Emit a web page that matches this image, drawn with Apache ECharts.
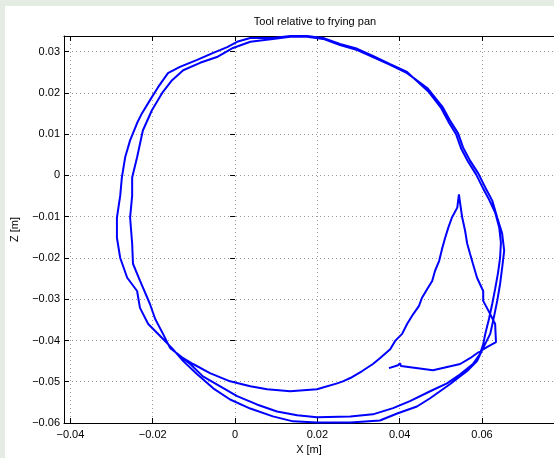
<!DOCTYPE html>
<html>
<head>
<meta charset="utf-8">
<title>Tool relative to frying pan</title>
<script src="https://cdn.jsdelivr.net/npm/echarts@6/dist/echarts.min.js"></script>
<style>
  html, body { margin: 0; padding: 0; }
  body { width: 554px; height: 458px; background: #e4ece3; position: relative; overflow: hidden; }
  #chart { position: absolute; left: 5px; top: 6px; width: 549px; height: 452px; background: #ffffff; }
</style>
</head>
<body>
<div id="chart"></div>
<script>
// Tool tip position [X, Z] in metres
const approachPath = [
  [0.0374, -0.0467], [0.0396, -0.0460], [0.0401, -0.0455], [0.0403, -0.0462],
  [0.0481, -0.0472], [0.0547, -0.0457], [0.0571, -0.0443], [0.0588, -0.0431],
  [0.0612, -0.0416], [0.0634, -0.0404], [0.0632, -0.0360], [0.0620, -0.0336],
  [0.0612, -0.0321], [0.0603, -0.0304], [0.0603, -0.0280], [0.0595, -0.0263],
  [0.0588, -0.0248], [0.0578, -0.0214], [0.0571, -0.0190], [0.0564, -0.0165],
  [0.0559, -0.0134], [0.0552, -0.0102], [0.0547, -0.0068], [0.0544, -0.0046]
];

const tipReturn = [
  [0.0540, -0.0078], [0.0527, -0.0102], [0.0518, -0.0127], [0.0510, -0.0153],
  [0.0503, -0.0178], [0.0496, -0.0207], [0.0486, -0.0231], [0.0479, -0.0256],
  [0.0467, -0.0275], [0.0454, -0.0297], [0.0447, -0.0316], [0.0433, -0.0336],
  [0.0418, -0.0360], [0.0406, -0.0384], [0.0389, -0.0401], [0.0377, -0.0421],
  [0.0352, -0.0443], [0.0335, -0.0457], [0.0309, -0.0474], [0.0280, -0.0491],
  [0.0262, -0.0499], [0.0248, -0.0504], [0.0199, -0.0518], [0.0134, -0.0523],
  [0.0078, -0.0518], [0.0037, -0.0511], [-0.0012, -0.0499], [-0.0061, -0.0479],
  [-0.0102, -0.0457], [-0.0126, -0.0443], [-0.0158, -0.0418], [-0.0175, -0.0384],
  [-0.0194, -0.0348], [-0.0207, -0.0311]
];

const firstLap = [
  [-0.0231, -0.0255], [-0.0248, -0.0214], [-0.0250, -0.0165], [-0.0255, -0.0102],
  [-0.0250, -0.0049], [-0.0250, -0.0005], [-0.0238, 0.0044], [-0.0224, 0.0109],
  [-0.0202, 0.0158], [-0.0177, 0.0200], [-0.0153, 0.0231], [-0.0126, 0.0255],
  [-0.0085, 0.0273], [-0.0044, 0.0287], [-0.0005, 0.0309], [0.0037, 0.0324],
  [0.0092, 0.0331], [0.0134, 0.0336], [0.0175, 0.0336], [0.0214, 0.0331],
  [0.0255, 0.0316], [0.0297, 0.0304], [0.0335, 0.0287], [0.0377, 0.0268],
  [0.0418, 0.0248], [0.0467, 0.0212], [0.0505, 0.0165], [0.0522, 0.0134],
  [0.0542, 0.0102], [0.0554, 0.0068], [0.0571, 0.0036], [0.0591, 0.0005],
  [0.0608, -0.0029], [0.0625, -0.0061], [0.0637, -0.0102], [0.0649, -0.0141],
  [0.0654, -0.0182], [0.0649, -0.0224], [0.0644, -0.0263], [0.0637, -0.0304],
  [0.0627, -0.0353], [0.0620, -0.0384], [0.0603, -0.0418], [0.0588, -0.0450],
  [0.0564, -0.0474], [0.0522, -0.0506], [0.0474, -0.0540], [0.0442, -0.0560],
  [0.0394, -0.0577], [0.0352, -0.0594], [0.0280, -0.0599], [0.0199, -0.0599],
  [0.0141, -0.0596], [0.0092, -0.0584], [0.0037, -0.0565], [-0.0012, -0.0543],
  [-0.0053, -0.0516], [-0.0092, -0.0482], [-0.0126, -0.0450], [-0.0151, -0.0421]
];

const secondLap = [
  [-0.0182, -0.0389], [-0.0211, -0.0360], [-0.0231, -0.0321], [-0.0238, -0.0280],
  [-0.0262, -0.0248], [-0.0279, -0.0200], [-0.0287, -0.0151], [-0.0287, -0.0102],
  [-0.0279, -0.0049], [-0.0275, -0.0005], [-0.0267, 0.0044], [-0.0255, 0.0085],
  [-0.0238, 0.0127], [-0.0226, 0.0151], [-0.0207, 0.0182], [-0.0187, 0.0214],
  [-0.0163, 0.0248], [-0.0134, 0.0263], [-0.0092, 0.0280], [-0.0053, 0.0297],
  [-0.0019, 0.0311], [0.0005, 0.0324], [0.0037, 0.0333], [0.0092, 0.0333],
  [0.0134, 0.0338], [0.0175, 0.0338], [0.0214, 0.0333], [0.0255, 0.0319],
  [0.0297, 0.0307], [0.0335, 0.0290], [0.0377, 0.0270], [0.0418, 0.0251],
  [0.0471, 0.0202], [0.0501, 0.0163], [0.0518, 0.0131], [0.0537, 0.0100],
  [0.0549, 0.0066], [0.0566, 0.0034], [0.0586, 0.0002], [0.0603, -0.0032],
  [0.0617, -0.0058], [0.0632, -0.0090], [0.0642, -0.0127], [0.0646, -0.0163],
  [0.0644, -0.0200], [0.0639, -0.0236], [0.0632, -0.0275], [0.0625, -0.0311],
  [0.0617, -0.0348], [0.0608, -0.0384], [0.0603, -0.0409], [0.0595, -0.0433],
  [0.0578, -0.0457], [0.0547, -0.0482], [0.0515, -0.0504], [0.0474, -0.0523],
  [0.0425, -0.0547], [0.0384, -0.0564], [0.0335, -0.0579], [0.0280, -0.0584],
  [0.0199, -0.0586], [0.0151, -0.0581], [0.0102, -0.0572], [0.0053, -0.0555],
  [0.0005, -0.0535], [-0.0036, -0.0511], [-0.0078, -0.0487], [-0.0109, -0.0457],
  [-0.0134, -0.0438]
];

const trajectory = approachPath.concat(tipReturn, firstLap, secondLap);

const xRange = [-0.04156, 0.0775];
const zRange = [-0.06, 0.0338];

const chart = echarts.init(document.getElementById('chart'), null, { renderer: 'canvas' });

const fontFamily = '"Liberation Sans", Arial, Helvetica, sans-serif';

// MATLAB style minus sign
function tickText(v) {
  const n = Number(v.toFixed(2));
  if (n === 0) return '0';
  return n < 0 ? '\u2212' + Math.abs(n) : String(n);
}

const gridDots = { show: true, lineStyle: { color: '#999999', width: 1, type: [1, 3] } };
const boxLine = { show: true, onZero: false, lineStyle: { color: '#000', width: 1 } };
const inTicks = { show: true, inside: true, length: 5, lineStyle: { color: '#000' } };

const option = {
  animation: false,
  title: {
    text: 'Tool relative to frying pan',
    left: 305,
    top: 5,
    textAlign: 'center',
    textStyle: { fontSize: 11, fontWeight: 'normal', color: '#000', fontFamily: fontFamily }
  },
  grid: { left: 59, top: 30, width: 490, height: 387, containLabel: false, outerBoundsMode: 'none' },
  xAxis: [
    {
      type: 'value',
      position: 'bottom',
      min: xRange[0],
      max: xRange[1],
      splitNumber: 6,
      minInterval: 0.02,
      maxInterval: 0.02,
      name: 'X [m]',
      nameLocation: 'middle',
      nameGap: 18,
      nameTextStyle: { fontSize: 11, color: '#000', fontFamily: fontFamily },
      axisLine: boxLine,
      axisTick: inTicks,
      axisLabel: {
        margin: 6, fontSize: 11, color: '#000', fontFamily: fontFamily,
        showMinLabel: false, showMaxLabel: false, formatter: tickText
      },
      splitLine: gridDots
    },
    {
      type: 'value',
      position: 'top',
      min: xRange[0],
      max: xRange[1],
      splitNumber: 6,
      minInterval: 0.02,
      maxInterval: 0.02,
      axisLine: boxLine,
      axisTick: inTicks,
      axisLabel: { show: false },
      splitLine: { show: false }
    }
  ],
  yAxis: [
    {
      type: 'value',
      position: 'left',
      min: zRange[0],
      max: zRange[1],
      interval: 0.01,
      name: 'Z [m]',
      nameLocation: 'middle',
      nameGap: 44,
      nameRotate: 90,
      nameTextStyle: { fontSize: 11, color: '#000', fontFamily: fontFamily },
      axisLine: boxLine,
      axisTick: inTicks,
      axisLabel: {
        margin: 4, fontSize: 11, color: '#000', fontFamily: fontFamily,
        showMaxLabel: false, formatter: tickText
      },
      splitLine: gridDots
    },
    {
      type: 'value',
      position: 'right',
      min: zRange[0],
      max: zRange[1],
      interval: 0.01,
      axisLine: { show: false },
      axisTick: inTicks,
      axisLabel: { show: false },
      splitLine: { show: false }
    }
  ],
  series: [
    {
      name: 'Tool',
      type: 'line',
      xAxisIndex: 0,
      yAxisIndex: 0,
      data: trajectory,
      symbol: 'none',
      showSymbol: false,
      clip: true,
      lineStyle: { color: '#0000ff', width: 2 }
    }
  ]
};

chart.setOption(option);
</script>
</body>
</html>
